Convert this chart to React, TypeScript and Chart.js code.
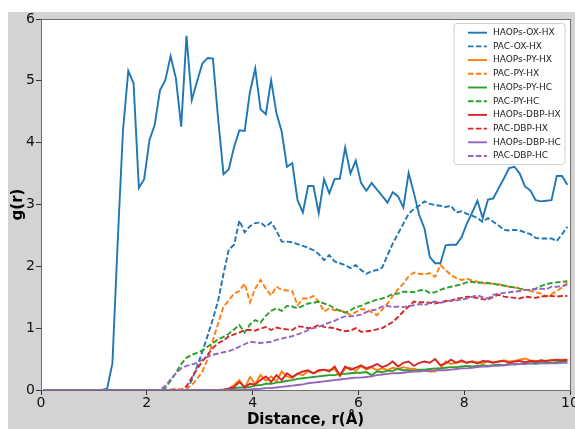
import React, { useEffect, useRef } from "react";
import { Chart, registerables } from "chart.js";

Chart.register(...registerables);

// r grid (bin centres, Å)
const rValues: number[] = Array.from({ length: 100 }, (_, i) => Math.round((0.05 + 0.1 * i) * 100) / 100);

const xTicks = [0, 2, 4, 6, 8, 10];
const yTicks = [0, 1, 2, 3, 4, 5, 6];

const haopsOxHx = [
  0, 0, 0, 0, 0, 0, 0, 0, 0, 0,
  0, 0, 0.02, 0.43, 2.4, 4.2, 5.16, 4.96, 3.27, 3.41,
  4.04, 4.29, 4.85, 5.01, 5.4, 5.04, 4.26, 5.73, 4.69, 4.99,
  5.28, 5.37, 5.36, 4.37, 3.49, 3.57, 3.93, 4.2, 4.19, 4.82,
  5.2, 4.54, 4.46, 5.01, 4.48, 4.18, 3.61, 3.67, 3.07, 2.87,
  3.3, 3.3, 2.86, 3.41, 3.18, 3.41, 3.42, 3.92, 3.5, 3.71,
  3.35, 3.22, 3.35, 3.24, 3.14, 3.03, 3.2, 3.13, 2.95, 3.51,
  3.18, 2.83, 2.61, 2.15, 2.05, 2.05, 2.34, 2.35, 2.35, 2.47,
  2.69, 2.87, 3.06, 2.78, 3.08, 3.1, 3.26, 3.42, 3.59, 3.61,
  3.5, 3.29, 3.23, 3.07, 3.05, 3.06, 3.07, 3.46, 3.46, 3.32,
];

const pacOxHx = [
  0, 0, 0, 0, 0, 0, 0, 0, 0, 0,
  0, 0, 0, 0, 0, 0, 0, 0, 0, 0,
  0, 0, 0, 0, 0, 0, 0, 0, 0.16, 0.38,
  0.62, 0.88, 1.15, 1.45, 1.88, 2.27, 2.35, 2.74, 2.55, 2.65,
  2.7, 2.71, 2.64, 2.71, 2.58, 2.4, 2.4, 2.39, 2.36, 2.33,
  2.3, 2.26, 2.2, 2.1, 2.18, 2.08, 2.05, 2.02, 1.97, 2.02,
  1.94, 1.88, 1.92, 1.94, 1.98, 2.18, 2.37, 2.53, 2.69, 2.85,
  2.93, 2.98, 3.05, 3.01, 2.99, 2.98, 2.96, 2.98, 2.87, 2.89,
  2.85, 2.82, 2.78, 2.72, 2.78, 2.72, 2.66, 2.59, 2.58, 2.59,
  2.58, 2.55, 2.52, 2.46, 2.45, 2.45, 2.45, 2.41, 2.52, 2.64,
];

const haopsPyHx = [
  0, 0, 0, 0, 0, 0, 0, 0, 0, 0,
  0, 0, 0, 0, 0, 0, 0, 0, 0, 0,
  0, 0, 0, 0, 0, 0, 0, 0, 0, 0,
  0, 0, 0, 0, 0.01, 0.02, 0.08, 0.16, 0.03, 0.21,
  0.1, 0.24, 0.15, 0.22, 0.14, 0.3, 0.22, 0.19, 0.27, 0.24,
  0.3, 0.27, 0.3, 0.33, 0.32, 0.34, 0.22, 0.35, 0.36, 0.31,
  0.39, 0.33, 0.37, 0.32, 0.35, 0.32, 0.36, 0.34, 0.37, 0.35,
  0.34, 0.32, 0.31, 0.3, 0.3, 0.35, 0.46, 0.42, 0.44, 0.46,
  0.44, 0.46, 0.45, 0.43, 0.47, 0.45, 0.46, 0.48, 0.46, 0.47,
  0.49, 0.51, 0.48, 0.47, 0.46, 0.47, 0.49, 0.48, 0.49, 0.49,
];

const pacPyHx = [
  0, 0, 0, 0, 0, 0, 0, 0, 0, 0,
  0, 0, 0, 0, 0, 0, 0, 0, 0, 0,
  0, 0, 0, 0, 0.01, 0.02, 0.01, 0.02, 0.08, 0.18,
  0.3, 0.5, 0.8, 1.08, 1.35, 1.45, 1.56, 1.6, 1.72, 1.42,
  1.64, 1.78, 1.64, 1.53, 1.67, 1.62, 1.61, 1.6, 1.37, 1.48,
  1.48, 1.52, 1.43, 1.27, 1.32, 1.29, 1.29, 1.26, 1.21, 1.26,
  1.31, 1.3, 1.26, 1.21, 1.3, 1.4, 1.52, 1.63, 1.72, 1.84,
  1.9, 1.88, 1.87, 1.89, 1.83, 2.02, 1.94, 1.86, 1.81, 1.78,
  1.8, 1.77, 1.75, 1.73, 1.72, 1.72, 1.71, 1.69, 1.67, 1.66,
  1.64, 1.62, 1.6, 1.58, 1.56, 1.51, 1.55, 1.6, 1.66, 1.74,
];

const haopsPyHc = [
  0, 0, 0, 0, 0, 0, 0, 0, 0, 0,
  0, 0, 0, 0, 0, 0, 0, 0, 0, 0,
  0, 0, 0, 0, 0, 0, 0, 0, 0, 0,
  0, 0, 0, 0, 0, 0.02, 0.03, 0.04, 0.04, 0.05,
  0.07, 0.08, 0.1, 0.1, 0.12, 0.13, 0.15, 0.16, 0.18, 0.19,
  0.2, 0.21, 0.22, 0.23, 0.24, 0.24, 0.26, 0.26, 0.27, 0.28,
  0.28, 0.29, 0.24, 0.3, 0.29, 0.31, 0.31, 0.34, 0.32, 0.32,
  0.31, 0.33, 0.33, 0.34, 0.35, 0.35, 0.36, 0.37, 0.37, 0.38,
  0.39, 0.38, 0.39, 0.4, 0.39, 0.4, 0.41, 0.4, 0.42, 0.41,
  0.42, 0.44, 0.43, 0.44, 0.44, 0.45, 0.44, 0.45, 0.46, 0.46,
];

const pacPyHc = [
  0, 0, 0, 0, 0, 0, 0, 0, 0, 0,
  0, 0, 0, 0, 0, 0, 0, 0, 0, 0,
  0, 0, 0, 0.03, 0.15, 0.28, 0.42, 0.52, 0.57, 0.6,
  0.64, 0.7, 0.76, 0.82, 0.86, 0.91, 0.98, 1.05, 0.93, 1.06,
  1.13, 1.09, 1.2, 1.28, 1.32, 1.28, 1.36, 1.35, 1.32, 1.36,
  1.4, 1.41, 1.43, 1.4, 1.37, 1.32, 1.28, 1.25, 1.29, 1.34,
  1.36, 1.4, 1.43, 1.46, 1.48, 1.51, 1.55, 1.56, 1.59, 1.59,
  1.58, 1.61, 1.62, 1.57, 1.58, 1.62, 1.65, 1.67, 1.69, 1.71,
  1.74, 1.75, 1.73, 1.74, 1.73, 1.72, 1.7, 1.69, 1.67, 1.66,
  1.64, 1.62, 1.62, 1.64, 1.68, 1.71, 1.73, 1.74, 1.75, 1.76,
];

const haopsDbpHx = [
  0, 0, 0, 0, 0, 0, 0, 0, 0, 0,
  0, 0, 0, 0, 0, 0, 0, 0, 0, 0,
  0, 0, 0, 0, 0, 0, 0, 0, 0, 0,
  0, 0, 0, 0, 0, 0.02, 0.05, 0.13, 0.05, 0.1,
  0.09, 0.16, 0.22, 0.13, 0.24, 0.16, 0.27, 0.21, 0.26, 0.3,
  0.32, 0.27, 0.32, 0.33, 0.3, 0.38, 0.24, 0.38, 0.33, 0.36,
  0.4, 0.35, 0.38, 0.42, 0.37, 0.4, 0.46, 0.38, 0.44, 0.46,
  0.39, 0.44, 0.46, 0.44, 0.5, 0.4, 0.43, 0.49, 0.44, 0.48,
  0.44, 0.46, 0.43, 0.47, 0.46, 0.44, 0.46, 0.47, 0.44, 0.46,
  0.47, 0.45, 0.47, 0.46, 0.48, 0.47, 0.48, 0.49, 0.48, 0.49,
];

const pacDbpHx = [
  0, 0, 0, 0, 0, 0, 0, 0, 0, 0,
  0, 0, 0, 0, 0, 0, 0, 0, 0, 0,
  0, 0, 0, 0, 0, 0, 0, 0.06, 0.2, 0.34,
  0.46, 0.57, 0.68, 0.76, 0.8, 0.87, 0.9, 0.93, 0.97, 0.97,
  0.96, 0.99, 1.02, 0.97, 1.01, 0.99, 0.98, 0.97, 1.03, 1.02,
  1.0, 1.01, 1.05, 1.02, 1.01, 1.0, 0.97, 0.95, 0.96, 1.0,
  0.94, 0.95, 0.96, 0.98, 1.0, 1.05, 1.1, 1.18, 1.27, 1.35,
  1.43, 1.42, 1.42, 1.41, 1.4, 1.42, 1.44, 1.44, 1.48, 1.49,
  1.51, 1.5, 1.49, 1.47, 1.46, 1.51, 1.54, 1.51, 1.5, 1.49,
  1.48, 1.51, 1.5, 1.49, 1.51, 1.52, 1.52, 1.51, 1.52, 1.52,
];

const haopsDbpHc = [
  0, 0, 0, 0, 0, 0, 0, 0, 0, 0,
  0, 0, 0, 0, 0, 0, 0, 0, 0, 0,
  0, 0, 0, 0, 0, 0, 0, 0, 0, 0,
  0, 0, 0, 0, 0, 0, 0, 0, 0.005, 0.01,
  0.015, 0.02, 0.03, 0.03, 0.04, 0.05, 0.06, 0.07, 0.08, 0.09,
  0.11, 0.12, 0.13, 0.14, 0.15, 0.16, 0.17, 0.18, 0.19, 0.2,
  0.2, 0.21, 0.22, 0.24, 0.25, 0.26, 0.27, 0.27, 0.28, 0.29,
  0.3, 0.3, 0.31, 0.31, 0.32, 0.32, 0.32, 0.33, 0.34, 0.35,
  0.35, 0.36, 0.37, 0.38, 0.38, 0.39, 0.39, 0.4, 0.41, 0.42,
  0.42, 0.42, 0.43, 0.42, 0.43, 0.43, 0.43, 0.43, 0.44, 0.44,
];

const pacDbpHc = [
  0, 0, 0, 0, 0, 0, 0, 0, 0, 0,
  0, 0, 0, 0, 0, 0, 0, 0, 0, 0,
  0, 0, 0, 0.07, 0.17, 0.27, 0.35, 0.39, 0.41, 0.44,
  0.49, 0.54, 0.57, 0.59, 0.61, 0.63, 0.66, 0.7, 0.74, 0.78,
  0.77, 0.76, 0.77, 0.78, 0.81, 0.83, 0.85, 0.87, 0.9, 0.93,
  0.97, 1.0, 1.02, 1.06, 1.09, 1.12, 1.16, 1.19, 1.19, 1.2,
  1.22, 1.26, 1.29, 1.3, 1.35, 1.36, 1.34, 1.35, 1.34, 1.36,
  1.37, 1.39, 1.37, 1.41, 1.43, 1.41, 1.43, 1.45, 1.45, 1.46,
  1.48, 1.51, 1.53, 1.5, 1.48, 1.54, 1.56, 1.57, 1.58, 1.59,
  1.6, 1.62, 1.62, 1.63, 1.64, 1.63, 1.67, 1.67, 1.68, 1.7,
];

const seriesNames = [
  "HAOPs-OX-HX", "PAC-OX-HX", "HAOPs-PY-HX", "PAC-PY-HX", "HAOPs-PY-HC",
  "PAC-PY-HC", "HAOPs-DBP-HX", "PAC-DBP-HX", "HAOPs-DBP-HC", "PAC-DBP-HC",
];
const seriesValues = [
  haopsOxHx, pacOxHx, haopsPyHx, pacPyHx, haopsPyHc,
  pacPyHc, haopsDbpHx, pacDbpHx, haopsDbpHc, pacDbpHc,
];
const seriesColors = [
  "#1f77b4", "#1f77b4", "#ff7f0e", "#ff7f0e", "#2ca02c",
  "#2ca02c", "#d62728", "#d62728", "#9467bd", "#9467bd",
];
const seriesDashed = [false, true, false, true, false, true, false, true, false, true];

const FONT = "'DejaVu Sans', 'Liberation Sans', sans-serif";
const DASH = [5.5, 2.4];
const LINE_W = 1.9;

const decorPlugin = {
  id: "decor",
  beforeDraw(chart: any) {
    const { ctx, chartArea: a } = chart;
    ctx.save();
    ctx.fillStyle = "#ffffff";
    ctx.fillRect(a.left, a.top, a.right - a.left, a.bottom - a.top);
    ctx.restore();
  },
  afterDatasetsDraw(chart: any) {
    const { ctx, chartArea: a } = chart;
    ctx.save();
    ctx.strokeStyle = "#6e6e6e";
    ctx.lineWidth = 1;
    ctx.strokeRect(Math.round(a.left) + 0.5, Math.round(a.top) + 0.5, Math.round(a.right - a.left), Math.round(a.bottom - a.top));
    ctx.restore();
  },
  afterDraw(chart: any) {
    const { ctx, chartArea: a } = chart;
    const w = 111;
    const h = 141;
    const x0 = a.right - 5 - w;
    const y0 = a.top + 4.5;
    const r = 3;
    ctx.save();
    ctx.beginPath();
    ctx.moveTo(x0 + r, y0);
    ctx.lineTo(x0 + w - r, y0);
    ctx.arcTo(x0 + w, y0, x0 + w, y0 + r, r);
    ctx.lineTo(x0 + w, y0 + h - r);
    ctx.arcTo(x0 + w, y0 + h, x0 + w - r, y0 + h, r);
    ctx.lineTo(x0 + r, y0 + h);
    ctx.arcTo(x0, y0 + h, x0, y0 + h - r, r);
    ctx.lineTo(x0, y0 + r);
    ctx.arcTo(x0, y0, x0 + r, y0, r);
    ctx.closePath();
    ctx.fillStyle = "rgba(255,255,255,0.85)";
    ctx.fill();
    ctx.strokeStyle = "#d0d0d0";
    ctx.lineWidth = 1;
    ctx.stroke();

    ctx.font = `9px ${FONT}`;
    ctx.textBaseline = "middle";
    ctx.textAlign = "left";
    seriesNames.forEach((name, i) => {
      const y = y0 + 9.2 + i * 13.7;
      ctx.beginPath();
      ctx.strokeStyle = seriesColors[i];
      ctx.lineWidth = LINE_W;
      ctx.setLineDash(seriesDashed[i] ? DASH : []);
      ctx.moveTo(x0 + 14, y);
      ctx.lineTo(x0 + 33, y);
      ctx.stroke();
      ctx.setLineDash([]);
      ctx.fillStyle = "#222";
      ctx.fillText(name, x0 + 39, y);
    });
    ctx.restore();
  },
};

export default function App() {
  const canvasRef = useRef<HTMLCanvasElement | null>(null);

  useEffect(() => {
    if (!canvasRef.current) return;
    const datasets = seriesNames.map((name, i) => ({
      label: name,
      data: rValues.map((r, k) => ({ x: r, y: seriesValues[i][k] })),
      borderColor: seriesColors[i],
      backgroundColor: seriesColors[i],
      borderWidth: LINE_W,
      borderDash: seriesDashed[i] ? DASH : [],
      pointRadius: 0,
      tension: 0,
      fill: false,
      order: seriesNames.length - i,
    }));

    const chart = new Chart(canvasRef.current, {
      type: "line",
      data: { datasets },
      options: {
        animation: false,
        responsive: false,
        devicePixelRatio: 1,
        layout: { padding: { top: 7, right: 5, left: 0, bottom: 0 } },
        plugins: { legend: { display: false }, tooltip: { enabled: false } },
        scales: {
          x: {
            type: "linear",
            min: 0,
            max: 10,
            afterBuildTicks: (scale: any) => {
              scale.ticks = xTicks.map((v) => ({ value: v }));
            },
            afterFit: (scale: any) => {
              scale.height = 39;
              scale.paddingLeft = 0;
              scale.paddingRight = 0;
            },
            ticks: {
              font: { family: FONT, size: 14 },
              color: "#111",
              padding: 0,
              maxRotation: 0,
              autoSkip: false,
            },
            grid: {
              drawOnChartArea: false,
              drawTicks: true,
              tickLength: 5,
              tickColor: "#333",
            },
            border: { display: false },
            title: {
              display: true,
              text: "Distance, r(Å)",
              color: "#000",
              font: { family: FONT, size: 15, weight: "bold", lineHeight: 1 },
              padding: { top: 0, bottom: 1 },
            },
          },
          y: {
            type: "linear",
            min: 0,
            max: 6,
            afterBuildTicks: (scale: any) => {
              scale.ticks = yTicks.map((v) => ({ value: v }));
            },
            afterFit: (scale: any) => {
              scale.width = 33;
              scale.paddingTop = 0;
              scale.paddingBottom = 0;
            },
            ticks: {
              font: { family: FONT, size: 14 },
              color: "#111",
              padding: 1,
              autoSkip: false,
            },
            grid: {
              drawOnChartArea: false,
              drawTicks: true,
              tickLength: 5,
              tickColor: "#333",
            },
            border: { display: false },
            title: {
              display: true,
              text: "g(r)",
              color: "#000",
              font: { family: FONT, size: 15, weight: "bold", lineHeight: 1 },
              padding: { top: 2.5, bottom: 0 },
            },
          },
        },
      },
      plugins: [decorPlugin],
    } as any);

    return () => chart.destroy();
  }, []);

  return (
    <div
      style={{
        position: "absolute",
        left: 8,
        top: 12,
        width: 567,
        height: 417,
        background: "#d3d3d3",
        overflow: "hidden",
      }}
    >
      <canvas ref={canvasRef} width={567} height={417} style={{ display: "block" }} />
    </div>
  );
}
